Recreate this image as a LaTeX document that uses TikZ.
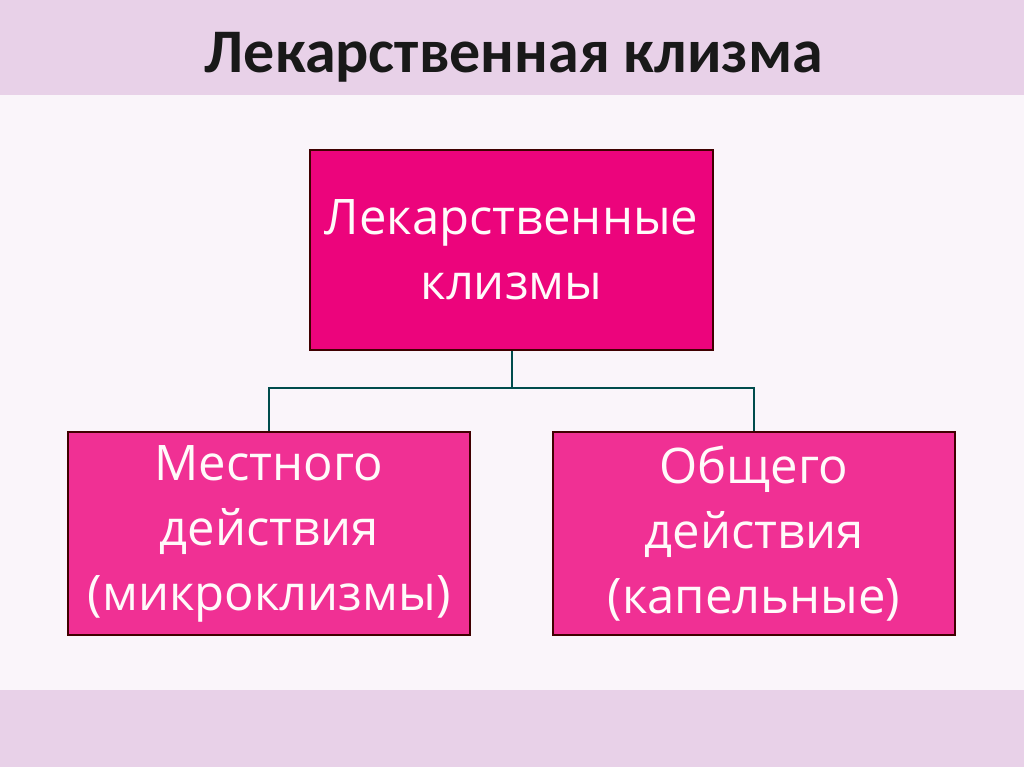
\documentclass[tikz,border=0pt]{standalone}
\usepackage{fontspec}
\setmainfont{Carlito}
\newfontfamily\boxfont{Open Sans}
\begin{document}
\begin{tikzpicture}[x=1pt,y=-1pt,
  box/.style={draw=black!75!red,line width=1.2pt,align=center,text=white!92!pink,font=\boxfont\fontsize{49}{65}\selectfont,inner sep=0pt},
  conn/.style={draw=teal!60!black,line width=2pt}]
\fill[violet!12!white] (0,0) rectangle (1024,767);
\fill[violet!18!white] (0,0) rectangle (1024,95);
\fill[violet!4!white] (0,95) rectangle (1024,690);
\fill[violet!18!white] (0,690) rectangle (1024,767);
\useasboundingbox (0,0) rectangle (1024,767);
\node[font=\bfseries\fontsize{62}{68}\selectfont,text=black!90] (title) at (514,57) {Лекарственная клизма};
\node[box,fill=magenta!85!red,minimum width=403pt,minimum height=200pt] (top) at (511.5,250) {Лекарственные\\клизмы};
\node[box,fill=magenta!80!white!90!red,minimum width=402pt,minimum height=203pt] (l) at (269,533.5) {Местного\\действия\\(микроклизмы)};
\node[box,fill=magenta!80!white!90!red,minimum width=402pt,minimum height=203pt] (r) at (754,533.5) {Общего\\действия\\(капельные)};
\coordinate (m) at (511.5,388);
\draw[conn] (top.south) -- (m) -| (l.north);
\draw[conn] (m) -| (r.north);
\end{tikzpicture}
\end{document}
